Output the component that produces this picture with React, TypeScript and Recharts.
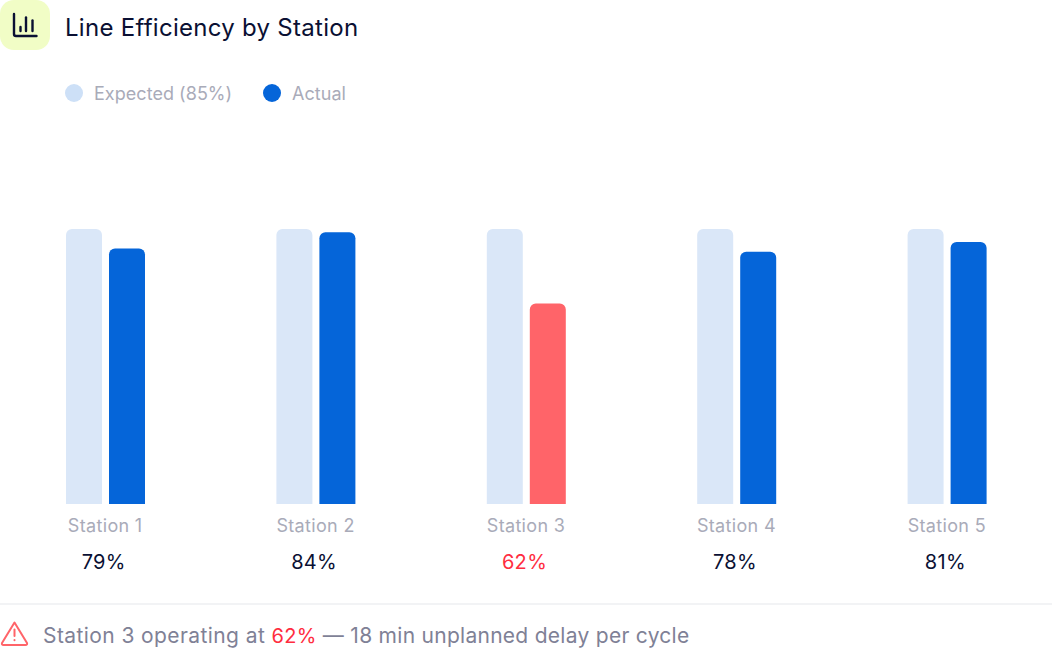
import { BarChart, Bar, XAxis, YAxis, Legend, Cell } from 'recharts';

const stations = ['Station 1', 'Station 2', 'Station 3', 'Station 4', 'Station 5'];
const expected = [85, 85, 85, 85, 85];
const actual = [79, 84, 62, 78, 81];
const flagged = ['Station 3'];

const FONT = 'Inter, sans-serif';
const BLUE = '#0565D9';
const PALE = '#DAE7F8';
const RED = '#FF6469';
const ALERT_RED = '#FF2D3F';
const INK = '#0A1033';
const MUTED = '#A9ABB9';

const data = stations.map((name, i) => ({ name, expected: expected[i], actual: actual[i] }));

const legendItems = [
    { label: 'Expected (85%)', color: '#CDE0F7', x: 65 },
    { label: 'Actual', color: BLUE, x: 263 },
];

function StationTick({ x, y, payload }: any) {
    const i = stations.indexOf(payload.value);
    const bad = flagged.includes(payload.value);
    return (
        <g>
            <text x={x} y={y + 22} textAnchor="middle" fontSize={18} letterSpacing={0.33} fontFamily={FONT} fill={MUTED}>{payload.value}</text>
            <text x={x - 1.5} y={y + 59} textAnchor="middle" fontSize={20} letterSpacing={0.3} fontFamily={FONT} fill={bad ? ALERT_RED : INK}>{actual[i]}%</text>
        </g>
    );
}

function ChartLegend() {
    return (
        <div style={{ position: 'relative', height: 20 }}>
            {legendItems.map(item => (
                <div key={item.label} style={{ position: 'absolute', left: item.x, top: 0, display: 'flex', alignItems: 'center', height: 20 }}>
                    <span style={{ width: 18, height: 18, borderRadius: '50%', background: item.color }} />
                    <span style={{ marginLeft: 11, fontSize: 18, letterSpacing: 0.04, color: MUTED, fontFamily: FONT, whiteSpace: 'nowrap' }}>{item.label}</span>
                </div>
            ))}
        </div>
    );
}

export default function App() {
    return (
        <div style={{ position: 'absolute', left: 0, top: 0, width: 1052, height: 663, background: '#fff', fontFamily: FONT, overflow: 'hidden' }}>
            {/* header */}
            <div style={{ position: 'absolute', left: 0, top: 0, width: 50, height: 50, borderRadius: 14, background: '#F1FDC6' }}>
                <svg width={50} height={50} viewBox="0 0 50 50" fill="none" stroke={INK} strokeWidth={2.4} strokeLinecap="round" strokeLinejoin="round">
                    <path d="M14 14 V34 Q14 36 16 36 H36.5" />
                    <path d="M20.5 27 V31" />
                    <path d="M26 17.5 V31" />
                    <path d="M32.5 20.5 V31" />
                </svg>
            </div>
            <div style={{ position: 'absolute', left: 65, top: 13, fontSize: 24, letterSpacing: 0.28, lineHeight: '30px', color: INK, whiteSpace: 'nowrap' }}>Line Efficiency by Station</div>

            {/* legend takes 20px out of the plot, so top margin is 209 for a 229 bar top */}
            <BarChart width={1052} height={663} data={data} margin={{ top: 209, right: 0, bottom: 0, left: 0 }} barSize={36} barGap={7} style={{ position: 'absolute', left: 0, top: 0 }}>
                <XAxis dataKey="name" interval={0} axisLine={false} tickLine={false} height={159} tick={<StationTick />} tickMargin={0} />
                <YAxis hide domain={[0, 85]} />
                <Legend content={<ChartLegend />} verticalAlign="top" wrapperStyle={{ position: 'absolute', left: 0, top: 83, width: 1052 }} />
                <Bar dataKey="expected" name="Expected (85%)" fill={PALE} radius={[6, 6, 0, 0]} isAnimationActive={false} />
                <Bar dataKey="actual" name="Actual" fill={BLUE} radius={[6, 6, 0, 0]} isAnimationActive={false}>
                    {data.map(d => <Cell key={d.name} fill={flagged.includes(d.name) ? RED : BLUE} />)}
                </Bar>
            </BarChart>

            {/* footer note */}
            <div style={{ position: 'absolute', left: 0, top: 603, width: 1052, height: 2, background: '#F2F3F5' }} />
            <svg style={{ position: 'absolute', left: 0, top: 620 }} width={29} height={27} viewBox="0 0 29 27" fill="none" stroke={RED} strokeWidth={2} strokeLinecap="round" strokeLinejoin="round">
                <path d="M14.5 2.5 L27 23 Q27.6 25 25.5 25 H3.5 Q1.4 25 2 23 Z" />
                <path d="M14.5 9.5 V16" />
                <path d="M14.5 20 V20.2" />
            </svg>
            <div style={{ position: 'absolute', left: 43, top: 622, fontSize: 21, letterSpacing: 0.28, lineHeight: '28px', color: '#7F8196', whiteSpace: 'nowrap' }}>
                <span style={{ letterSpacing: 0.41 }}>Station 3 operating at </span><span style={{ color: ALERT_RED, fontSize: 20, letterSpacing: 0.3 }}>62%</span> — 18 min unplanned delay per cycle
            </div>
        </div>
    );
}
